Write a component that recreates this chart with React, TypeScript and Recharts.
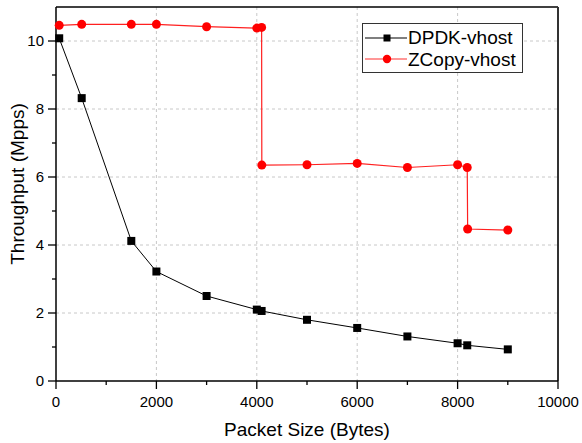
import React from 'react';
import { LineChart, Line, XAxis, YAxis, CartesianGrid, ReferenceLine, Label } from 'recharts';

// packet sizes (bytes) and throughput (Mpps)
const dpdkSizes = [64, 512, 1500, 2000, 3000, 4000, 4096, 5000, 6000, 7000, 8000, 8192, 9000];
const dpdkMpps = [10.08, 8.32, 4.12, 3.22, 2.5, 2.1, 2.06, 1.8, 1.56, 1.31, 1.11, 1.05, 0.93];

const zcopySizes = [64, 512, 1500, 2000, 3000, 4000, 4096, 4100, 5000, 6000, 7000, 8000, 8192, 8200, 9000];
const zcopyMpps = [10.46, 10.49, 10.49, 10.49, 10.42, 10.38, 10.4, 6.35, 6.36, 6.4, 6.28, 6.36, 6.28, 4.47, 4.44];

const xTicks = [0, 1000, 2000, 3000, 4000, 5000, 6000, 7000, 8000, 9000, 10000];
const xLabelled = [0, 2000, 4000, 6000, 8000, 10000];
const yTicks = [0, 1, 2, 3, 4, 5, 6, 7, 8, 9, 10];
const yLabelled = [0, 2, 4, 6, 8, 10];

const FONT = '"Liberation Sans", Arial, sans-serif';

const dpdkData = dpdkSizes.map((size, i) => ({ size, mpps: dpdkMpps[i] }));
const zcopyData = zcopySizes.map((size, i) => ({ size, mpps: zcopyMpps[i] }));

const XTick = (props: any) => {
  const { x, y, payload } = props;
  const major = xLabelled.includes(payload.value);
  return (
    <g>
      <line x1={x} x2={x} y1={y} y2={y + (major ? 8 : 4)} stroke="#000" strokeWidth={1.3} />
      {major && (
        <text x={x} y={y + 15} dy="0.71em" textAnchor="middle" fontSize={15} fontFamily={FONT} fill="#000">
          {payload.value}
        </text>
      )}
    </g>
  );
};

const YTick = (props: any) => {
  const { x, y, payload } = props;
  const major = yLabelled.includes(payload.value);
  return (
    <g>
      <line x1={x} x2={x - (major ? 8 : 4)} y1={y} y2={y} stroke="#000" strokeWidth={1.3} />
      {major && (
        <text x={x - 12} y={y} dy="0.355em" textAnchor="end" fontSize={15} fontFamily={FONT} fill="#000">
          {payload.value}
        </text>
      )}
    </g>
  );
};

const SquareDot = (props: any) => {
  const { cx, cy, index } = props;
  return <rect key={`sq-${index}`} x={cx - 4} y={cy - 4} width={8} height={8} fill="#000" />;
};

const Legendish = () => (
  <div
    style={{
      position: 'absolute',
      left: 362,
      top: 23,
      width: 159,
      height: 48,
      border: '1.3px solid #333',
      background: '#fff',
    }}
  >
    <svg width={159} height={48} style={{ position: 'absolute', left: 0, top: 0 }}>
      <line x1={2} x2={44} y1={14} y2={14} stroke="#555" strokeWidth={1.3} />
      <rect x={20.5} y={10.5} width={7} height={7} fill="#000" />
      <text x={45} y={19.5} fontSize={19} fontFamily={FONT} fill="#000">DPDK-vhost</text>
      <line x1={2} x2={44} y1={35} y2={35} stroke="#ff3030" strokeWidth={1.1} />
      <circle cx={24} cy={35} r={4.2} fill="#ff0000" />
      <text x={45} y={41.5} fontSize={19} fontFamily={FONT} fill="#000">ZCopy-vhost</text>
    </svg>
  </div>
);

export default function App() {
  return (
    <div style={{ position: 'absolute', left: 0, top: 0, width: 582, height: 443, background: '#fff' }}>
      <LineChart width={582} height={443} margin={{ top: 7, right: 24, left: 0, bottom: 0 }}>
        <CartesianGrid
          stroke="#c8c8c8"
          strokeDasharray="3 3"
          verticalValues={[2000, 4000, 6000, 8000]}
          horizontalValues={[2, 4, 6, 8, 10]}
        />
        <XAxis
          dataKey="size"
          type="number"
          domain={[0, 10000]}
          ticks={xTicks}
          interval={0}
          allowDuplicatedCategory={false}
          height={62}
          tickSize={0}
          tickMargin={0}
          tickLine={false}
          tick={<XTick />}
          axisLine={{ stroke: '#000', strokeWidth: 1.5 }}
        >
          <Label
            content={({ viewBox }: any) => (
              <text
                x={viewBox.x + viewBox.width / 2}
                y={viewBox.y + 55}
                textAnchor="middle"
                fontSize={19}
                fontFamily={FONT}
                fill="#000"
              >
                Packet Size (Bytes)
              </text>
            )}
          />
        </XAxis>
        <YAxis
          type="number"
          domain={[0, 11]}
          ticks={yTicks}
          interval={0}
          width={56}
          tickSize={0}
          tickMargin={0}
          tickLine={false}
          tick={<YTick />}
          axisLine={{ stroke: '#000', strokeWidth: 1.5 }}
        >
          <Label
            content={({ viewBox }: any) => {
              const cx = viewBox.x + 24;
              const cy = viewBox.y + viewBox.height / 2 - 10;
              return (
                <text
                  x={cx}
                  y={cy}
                  transform={`rotate(-90 ${cx} ${cy})`}
                  textAnchor="middle"
                  fontSize={19}
                  fontFamily={FONT}
                  fill="#000"
                >
                  Throughput (Mpps)
                </text>
              );
            }}
          />
        </YAxis>
        <ReferenceLine y={11} stroke="#000" strokeWidth={1.5} />
        <ReferenceLine x={10000} stroke="#333" strokeWidth={2} />
        <Line
          data={dpdkData}
          dataKey="mpps"
          name="DPDK-vhost"
          stroke="#000"
          strokeWidth={1}
          dot={<SquareDot />}
          isAnimationActive={false}
        />
        <Line
          data={zcopyData}
          dataKey="mpps"
          name="ZCopy-vhost"
          stroke="#ff2020"
          strokeWidth={1.2}
          dot={{ r: 4.5, fill: '#ff0000', stroke: '#ff0000', strokeWidth: 0 }}
          isAnimationActive={false}
        />
      </LineChart>
      <Legendish />
    </div>
  );
}
